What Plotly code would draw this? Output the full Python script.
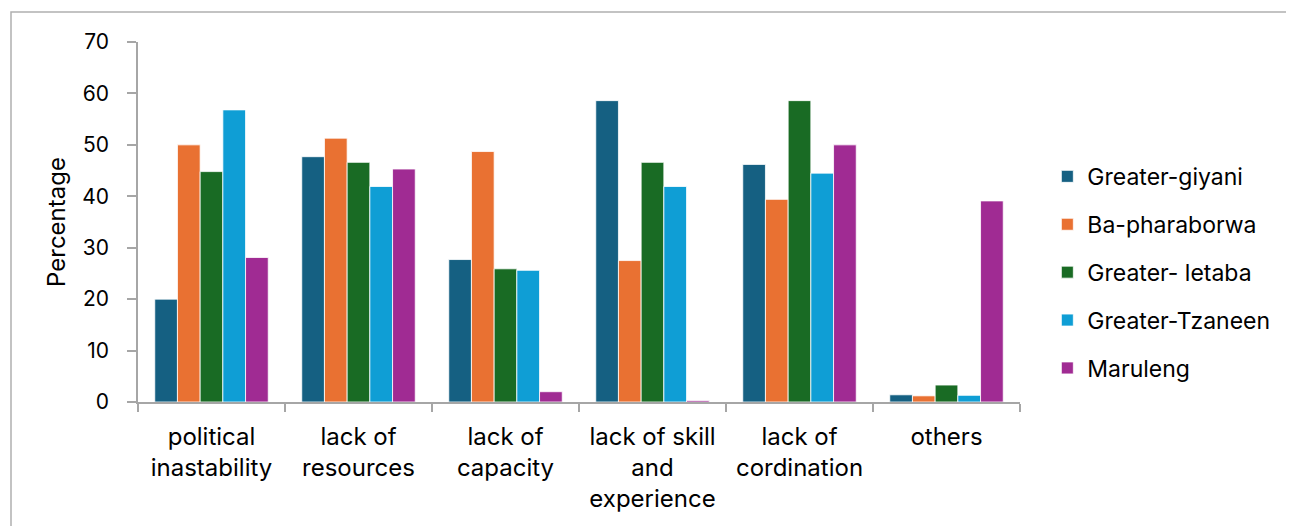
import plotly.graph_objects as go

categories = ["political<br>inastability", "lack of<br>resources", "lack of<br>capacity",
              "lack of skill<br>and<br>experience", "lack of<br>cordination", "others"]
series_names = ["Greater-giyani", "Ba-pharaborwa", "Greater- letaba", "Greater-Tzaneen", "Maruleng"]
greater_giyani = [20.0, 47.7, 27.7, 58.6, 46.2, 1.4]
ba_pharaborwa = [50.0, 51.3, 48.7, 27.5, 39.4, 1.2]
greater_letaba = [44.8, 46.6, 25.9, 46.6, 58.6, 3.3]
greater_tzaneen = [56.8, 41.9, 25.6, 41.9, 44.5, 1.3]
maruleng = [28.1, 45.3, 2.0, 0.3, 50.0, 39.1]
y_ticks = [0, 10, 20, 30, 40, 50, 60, 70]

colors = ["#156082", "#E97132", "#196B24", "#0F9ED5", "#A02B93"]
values = [greater_giyani, ba_pharaborwa, greater_letaba, greater_tzaneen, maruleng]

fig = go.Figure()
for i, (name, vals) in enumerate(zip(series_names, values)):
    fig.add_trace(go.Bar(
        x=categories, y=vals, name=name,
        marker=dict(color=colors[i], line=dict(color="white", width=0.8)),
        legendgroup=f"g{i}",
    ))

# page body has an 8px margin; plot area targeted at x 138-1020, y 42-402
fig.update_layout(
    width=1294, height=526,
    margin=dict(l=130, r=282, t=34, b=132),
    paper_bgcolor="white", plot_bgcolor="white",
    barmode="group", bargap=0.228, bargroupgap=0,
    font=dict(family="Inter, sans-serif", size=22, color="#000000"),
    legend=dict(x=1.031, xanchor="left", y=0.36, yanchor="middle",
                font=dict(family="Inter, sans-serif", size=23, color="#000000"),
                traceorder="grouped", tracegroupgap=15, itemwidth=30),
    showlegend=True,
)
fig.update_xaxes(
    type="category", showline=True, linecolor="#a6a6a6", linewidth=1.5,
    ticks="outside", tickson="boundaries", ticklen=8, tickcolor="#a6a6a6", tickwidth=1.5,
    showgrid=False, tickfont=dict(family="Inter, sans-serif", size=24, color="#000000"),
    ticklabelstandoff=12,
)
fig.update_yaxes(
    range=[0, 70], tickvals=y_ticks, showline=True, linecolor="#a6a6a6", linewidth=1.5,
    ticks="outside", ticklen=9, tickcolor="#a6a6a6", tickwidth=1.5,
    showgrid=False, zeroline=False,
    tickfont=dict(family="Inter, sans-serif", size=21, color="#000000"),
    ticklabelstandoff=14,
    title=dict(text="Percentage", font=dict(family="Inter, sans-serif", size=24), standoff=10),
)
fig.add_shape(type="rect", xref="paper", yref="paper",
              x0=(11 - 138) / 882, x1=(1293 - 138) / 882,
              y0=-0.4, y1=1 + 30 / 360,
              line=dict(color="#b0b0b0", width=1.5), fillcolor="rgba(0,0,0,0)", layer="below")

fig.write_html("out.html")
